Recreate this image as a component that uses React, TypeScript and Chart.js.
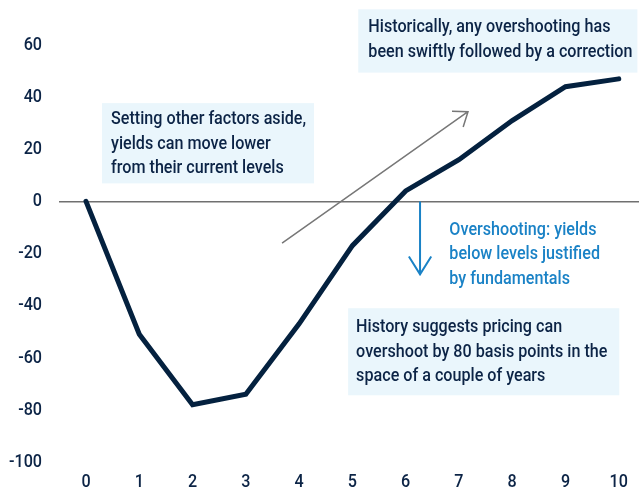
import { useEffect, useRef } from "react";
import { Chart, registerables } from "chart.js";

Chart.register(...registerables);

const years = [0, 1, 2, 3, 4, 5, 6, 7, 8, 9, 10];
const yieldChange = [0, -51, -78, -74, -47, -17, 4, 16, 31, 44, 47];
const yTicks = [60, 40, 20, 0, -20, -40, -60, -80, -100];

const note1 = ["Setting other factors aside,", "yields can move lower", "from their current levels"];
const note2 = ["Historically, any overshooting has", "been swiftly followed by a correction"];
const note3 = ["History suggests pricing can", "overshoot by 80 basis points in the", "space of a couple of years"];
const note4 = ["Overshooting: yields", "below levels justified", "by fundamentals"];

const FONT = "Roboto, sans-serif";
const FONT_SIZE = 19;
const FONT_WEIGHT = 500;
const TEXT_SQUEEZE = 0.85;
const NAVY = "#0c2446";
const LINE = "#04213f";
const BLUE = "#1a82c6";
const BOX = "#eaf6fc";
const GREY = "#777777";

// annotation anchors in data units
const boxes = [
  { x0: 0.3, x1: 4.28, y0: 37.7, y1: 6.9, tx: 0.47, ty: 31.5, lines: note1, color: NAVY, fill: BOX },
  { x0: 5.11, x1: 10.35, y0: 73.7, y1: 49.4, tx: 5.3, ty: 66.7, lines: note2, color: NAVY, fill: BOX },
  { x0: 4.92, x1: 10.01, y0: -41, y1: -74.4, tx: 5.07, ty: -48.3, lines: note3, color: NAVY, fill: BOX },
  { x0: 0, x1: 0, y0: 0, y1: 0, tx: 6.82, ty: -11, lines: note4, color: BLUE, fill: null },
];
const arrows = [
  { x0: 3.68, y0: -16, x1: 7.17, y1: 34.4, color: GREY, width: 1.5, head: 16, spread: 0.65 },
  { x0: 6.27, y0: 0, x1: 6.27, y1: -28, color: BLUE, width: 2, head: 21, spread: 0.56 },
];

const notesPlugin = {
  id: "notes",
  afterDatasetsDraw(chart: any) {
    const { ctx, scales } = chart;
    const xs = scales.x;
    const ys = scales.y;
    ctx.save();
    // tick labels drawn condensed
    ctx.font = `${FONT_WEIGHT} ${FONT_SIZE}px ${FONT}`;
    ctx.fillStyle = NAVY;
    ctx.textBaseline = "middle";
    ctx.textAlign = "right";
    for (const v of yTicks) {
      const py = ys.getPixelForValue(v);
      ctx.save();
      ctx.translate(42, py);
      ctx.scale(TEXT_SQUEEZE, 1);
      ctx.fillText(String(v), 0, 0);
      ctx.restore();
    }
    ctx.textAlign = "center";
    for (const v of years) {
      const px = xs.getPixelForValue(v);
      ctx.save();
      ctx.translate(px, 482);
      ctx.scale(TEXT_SQUEEZE, 1);
      ctx.fillText(String(v), 0, 0);
      ctx.restore();
    }
    for (const b of boxes) {
      if (b.fill) {
        const l = xs.getPixelForValue(b.x0);
        const r = xs.getPixelForValue(b.x1);
        const t = ys.getPixelForValue(b.y0);
        const bt = ys.getPixelForValue(b.y1);
        ctx.fillStyle = b.fill;
        ctx.fillRect(l, t, r - l, bt - t);
      }
      ctx.fillStyle = b.color;
      ctx.textAlign = "left";
      const tx = xs.getPixelForValue(b.tx);
      const ty = ys.getPixelForValue(b.ty);
      b.lines.forEach((s, i) => {
        ctx.save();
        ctx.translate(tx, ty + i * 24.6);
        ctx.scale(TEXT_SQUEEZE, 1);
        ctx.fillText(s, 0, 0);
        ctx.restore();
      });
    }
    for (const a of arrows) {
      const x0 = xs.getPixelForValue(a.x0);
      const y0 = ys.getPixelForValue(a.y0);
      const x1 = xs.getPixelForValue(a.x1);
      const y1 = ys.getPixelForValue(a.y1);
      const ang = Math.atan2(y1 - y0, x1 - x0);
      ctx.strokeStyle = a.color;
      ctx.lineWidth = a.width;
      ctx.beginPath();
      ctx.moveTo(x0, y0);
      ctx.lineTo(x1, y1);
      ctx.moveTo(x1 - a.head * Math.cos(ang - a.spread), y1 - a.head * Math.sin(ang - a.spread));
      ctx.lineTo(x1, y1);
      ctx.lineTo(x1 - a.head * Math.cos(ang + a.spread), y1 - a.head * Math.sin(ang + a.spread));
      ctx.stroke();
    }
    ctx.restore();
  },
};

export default function App() {
  const ref = useRef<HTMLCanvasElement | null>(null);
  useEffect(() => {
    if (!ref.current) return;
    const chart = new Chart(ref.current, {
      type: "line",
      data: {
        datasets: [
          {
            data: years.map((x, i) => ({ x, y: yieldChange[i] })),
            borderColor: LINE,
            borderWidth: 5,
            borderCapStyle: "round",
            pointRadius: 0,
            tension: 0,
            fill: false,
          },
        ],
      },
      options: {
        animation: false,
        responsive: true,
        maintainAspectRatio: false,
        layout: { padding: { top: 45, right: 0, bottom: 0, left: 0 } },
        plugins: { legend: { display: false }, tooltip: { enabled: false } },
        scales: {
          x: {
            type: "linear",
            min: -0.507,
            max: 10.38,
            afterBuildTicks: (axis: any) => {
              axis.ticks = years.map((v) => ({ value: v }));
            },
            afterFit: (axis: any) => {
              axis.height = 27;
            },
            grid: { display: false, drawTicks: false },
            border: { display: false },
            ticks: { display: false },
          },
          y: {
            type: "linear",
            min: -100,
            max: 60,
            afterBuildTicks: (axis: any) => {
              axis.ticks = yTicks.map((v) => ({ value: v }));
            },
            afterFit: (axis: any) => {
              axis.width = 59;
            },
            grid: {
              drawTicks: false,
              color: (c: any) => (c.tick && c.tick.value === 0 ? "#707070" : "rgba(0,0,0,0)"),
              lineWidth: 1.5,
            },
            border: { display: false },
            ticks: { display: false },
          },
        },
      },
      plugins: [notesPlugin],
    });
    return () => chart.destroy();
  }, []);
  return (
    <div style={{ position: "absolute", left: 0, top: 0, width: 639, height: 489 }}>
      <canvas ref={ref} />
    </div>
  );
}
